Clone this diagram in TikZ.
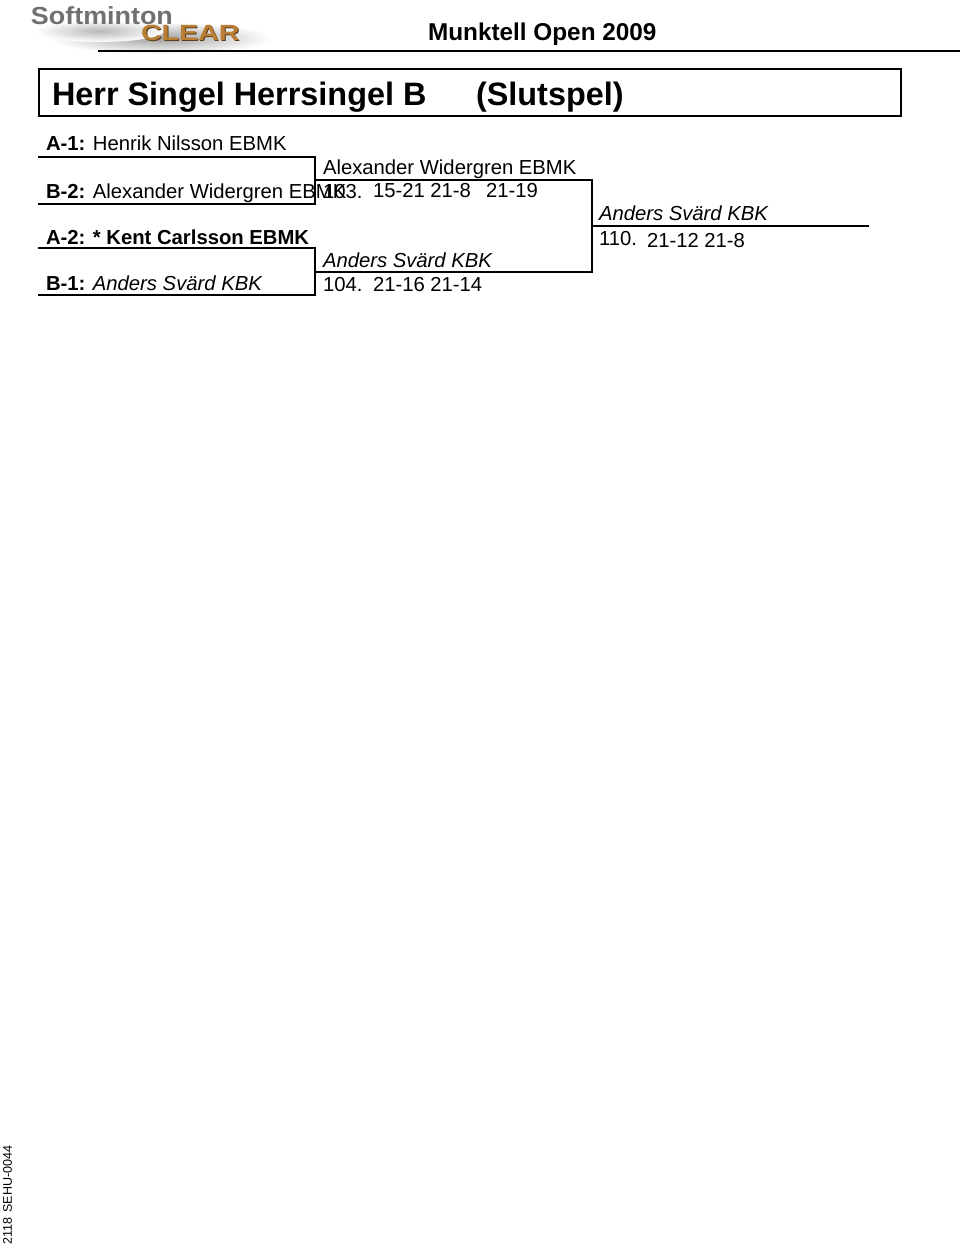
\documentclass[tikz,border=0pt]{standalone}
\usepackage{fontspec}
\setmainfont{Liberation Sans}
\definecolor{logogray}{RGB}{112,112,112}
\definecolor{logoorange}{RGB}{186,126,52}
\definecolor{logodark}{RGB}{90,62,30}
\tikzset{
  x=0.75pt,y=-0.75pt,
  txt/.style={anchor=base west,inner sep=0pt,outer sep=0pt,text=black},
  entry/.style={txt,font=\fontsize{15.2pt}{16pt}\selectfont},
  head/.style={txt,font=\bfseries\fontsize{18.25pt}{20pt}\selectfont},
  titletxt/.style={txt,font=\bfseries\fontsize{24.3pt}{26pt}\selectfont},
  rule/.style={draw=black,line width=2pt,line cap=rect},
  thinrule/.style={draw=black,line width=1.5pt,line cap=rect},
}
\begin{document}
\begin{tikzpicture}
\useasboundingbox[fill=white] (0,0) rectangle (960,1245);
% logo shadow
\shade[inner color=black!38,outer color=white] (160,38) ellipse (112 and 16);
\shade[inner color=black!28,outer color=white] (100,31) ellipse (64 and 11);
\node[txt,font=\bfseries\fontsize{18.5pt}{20pt}\selectfont,text=logogray,xscale=1.09] (logoa) at (31,25) {Softminton};
\node[txt,font=\bfseries\fontsize{16.5pt}{18pt}\selectfont,text=logodark,xscale=1.3] (logoc) at (142,41.5) {CLEAR};
\node[txt,font=\bfseries\fontsize{16.5pt}{18pt}\selectfont,text=logoorange,xscale=1.3] (logob) at (141,41) {CLEAR};
% header
\node[head] (event) at (428,41) {Munktell Open 2009};
\coordinate (hl) at (98,51); \coordinate (hr) at (960,51);
\draw[rule,line cap=butt] (hl) -- (hr);
% title box
\draw[rule,line width=1.9pt] (39,69) rectangle (901,116);
\node[titletxt] (t1) at (52,106) {Herr Singel Herrsingel B};
\node[titletxt] (t2) at (476,106) {(Slutspel)};
% players
\node[entry] (p1) at (46,151) {\textbf{A-1:} Henrik Nilsson EBMK};
\node[entry] (p2) at (46,198) {\textbf{B-2:} Alexander Widergren EBMK};
\node[entry] (p3) at (46,244) {\textbf{A-2: * Kent Carlsson EBMK}};
\node[entry] (p4) at (46,290) {\textbf{B-1:} \textit{Anders Svärd KBK}};
% brackets
\draw[rule] (39,157) -- (315,157);
\draw[rule] (39,204) -- (315,204);
\draw[rule] (39,248) -- (315,248);
\draw[rule] (39,295) -- (315,295);
\draw[thinrule] (315,157) -- (315,204);
\draw[thinrule] (315,248) -- (315,295);
\draw[thinrule] (315,180) -- (592,180) -- (592,272) -- (315,272);
\draw[rule] (592,226) -- (868,226);
% winners
\node[entry] (w1) at (323,175) {Alexander Widergren EBMK};
\node[entry] (s1) at (323,198) {103.};
\node[entry] (s1b) at (373,197) {15-21 21-8};
\node[entry] (s1c) at (486,197) {21-19};
\node[entry] (w2) at (323,267) {\textit{Anders Svärd KBK}};
\node[entry] (s2) at (323,291) {104.};
\node[entry] (s2b) at (373,291) {21-16 21-14};
\node[entry] (w3) at (599,220) {\textit{Anders Svärd KBK}};
\node[entry] (s3) at (599,245) {110.};
\node[entry] (s3b) at (647,247) {21-12 21-8};
% side code
\node[txt,font=\fontsize{9.4pt}{10pt}\selectfont,rotate=90] (code) at (12,1244) {2118\hspace{3.5pt}SEHU-0044};
\end{tikzpicture}
\end{document}
